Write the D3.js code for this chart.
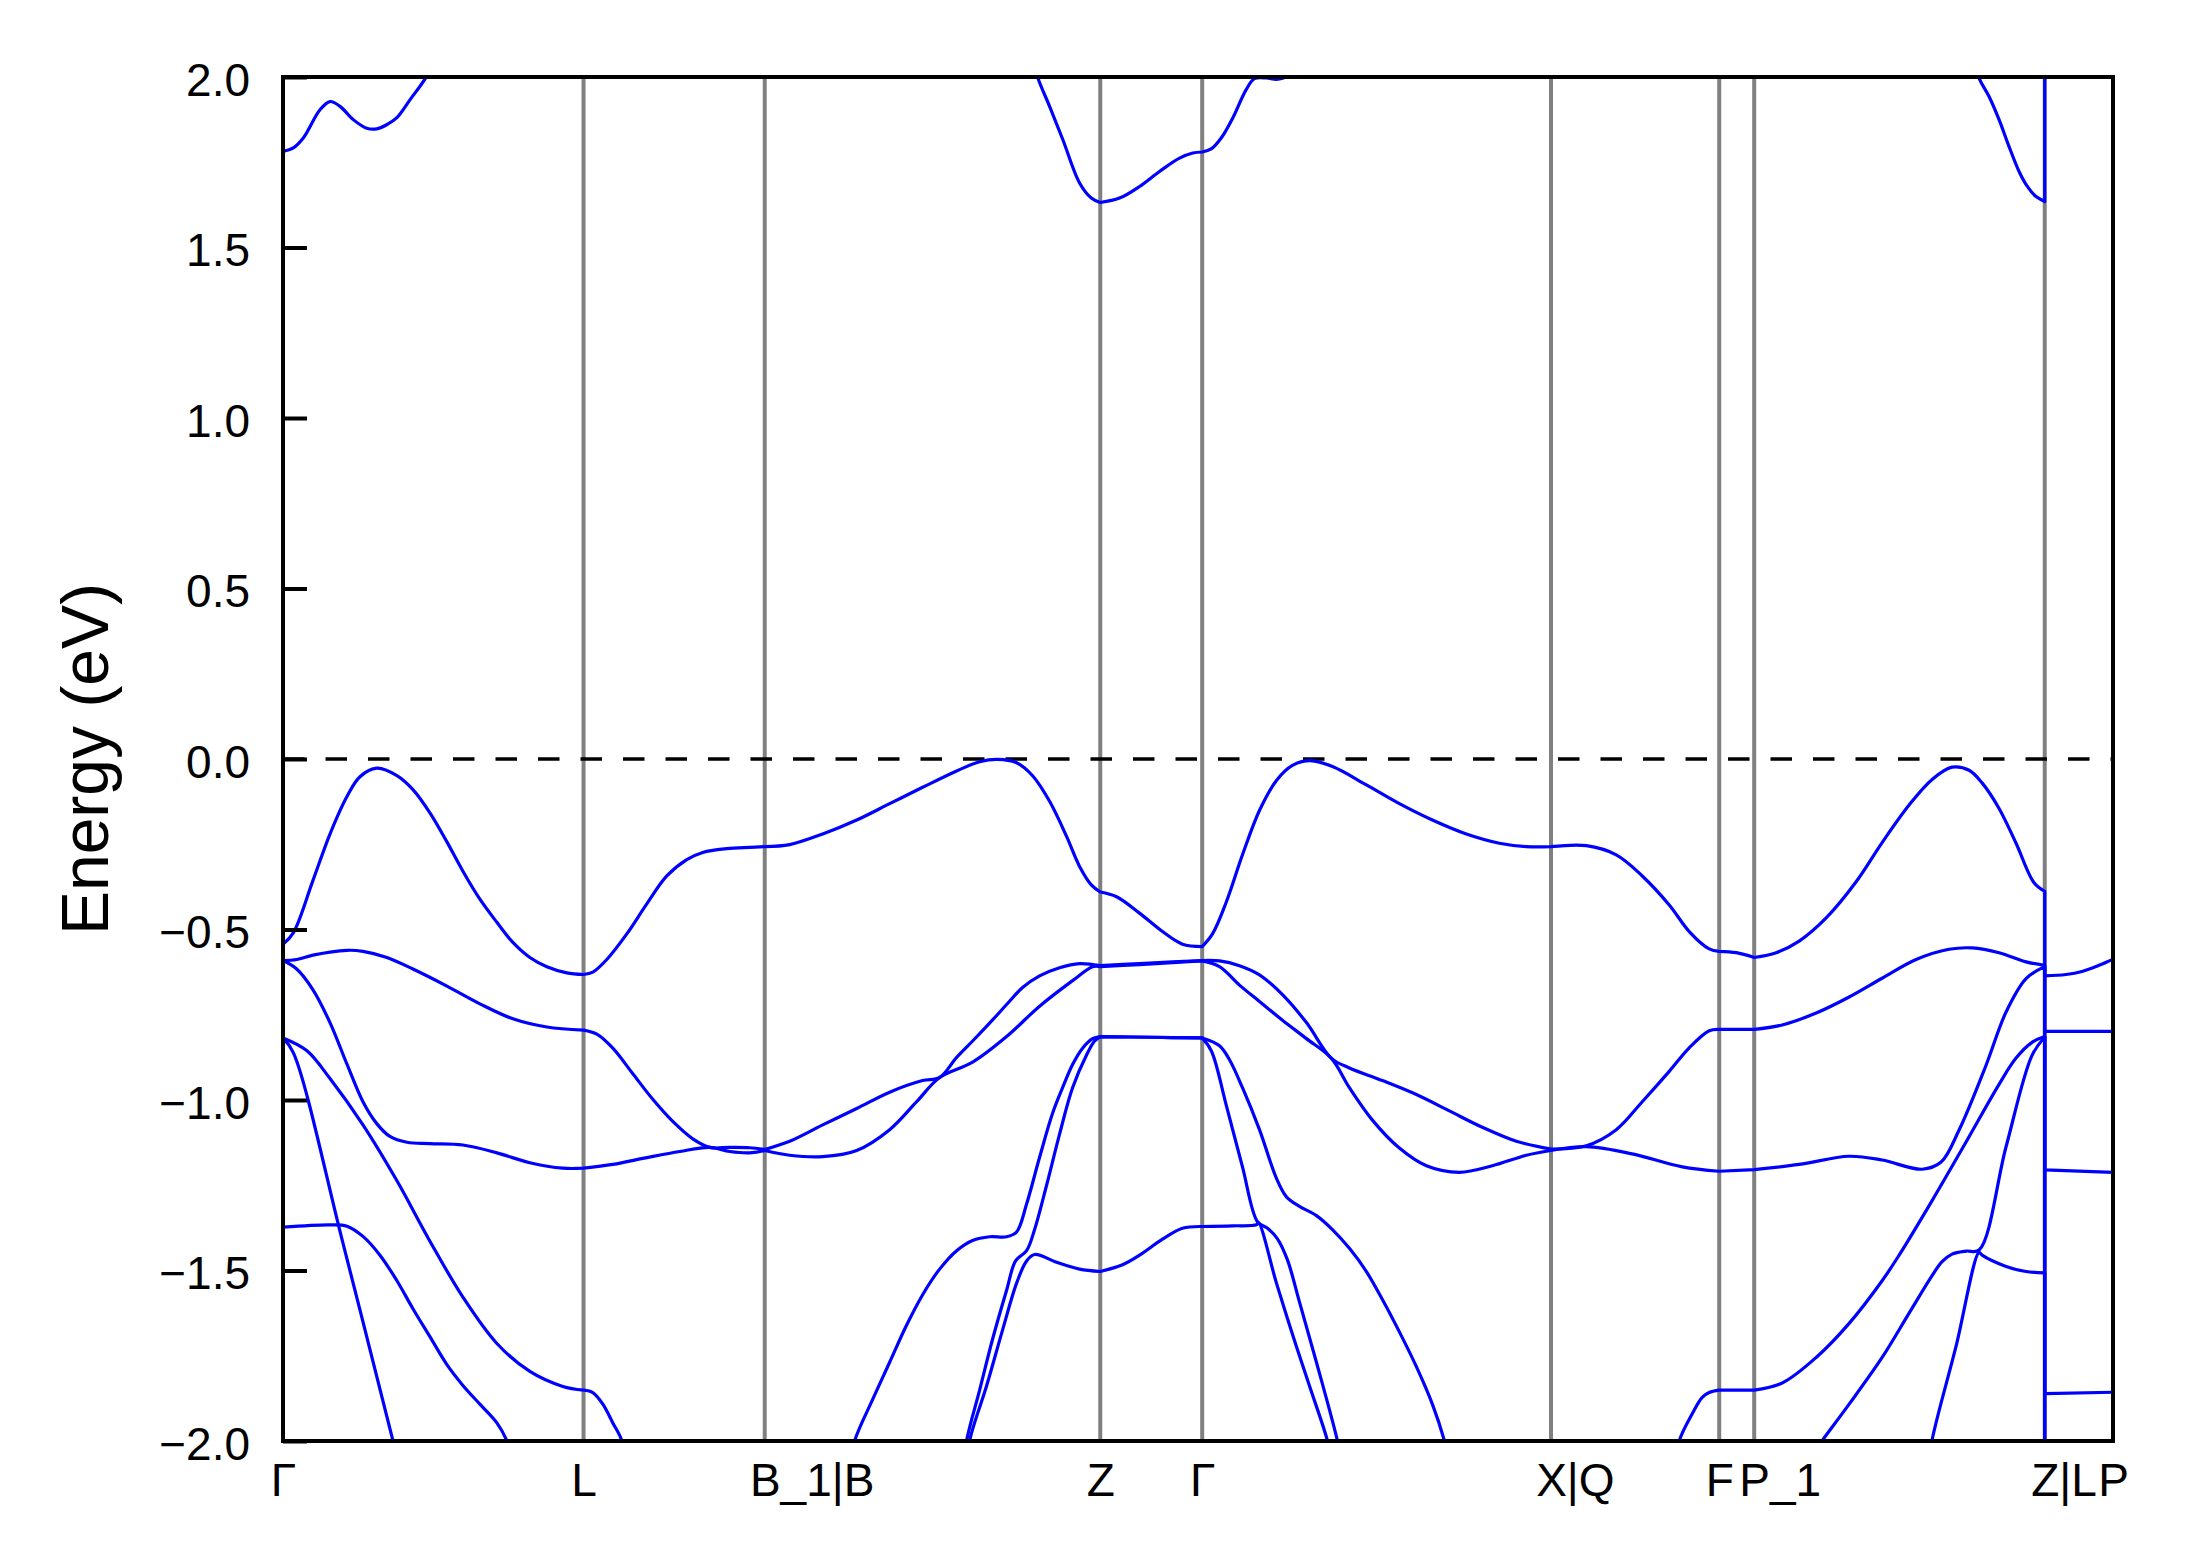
<!DOCTYPE html>
<html>
<head>
<meta charset="utf-8">
<script src="https://cdn.jsdelivr.net/npm/d3@7"></script>
<style>
  body { margin: 0; background: #fff; }
  text { font-family: "Liberation Sans", Arial, sans-serif; }
</style>
</head>
<body>
<script>
// k-path (distance along path) and labels
const kTicks = [0, 0.3007, 0.482, 0.8177, 0.9197, 1.2687, 1.437, 1.472, 1.7627, 1.831];
const kLabels = ["Γ", "L", "B_1|B", "Z", "Γ", "X|Q", "F", "P_1", "Z|L", "P"];
const energyTicks = [-2, -1.5, -1, -0.5, 0, 0.5, 1, 1.5, 2];

// conduction band pieces (only the parts that come below 2 eV)
const cbGamma = [[0, 1.782], [0.0103, 1.792], [0.0203, 1.821], [0.037, 1.904], [0.047, 1.928], [0.057, 1.914],
  [0.0703, 1.875], [0.0837, 1.85], [0.0937, 1.848], [0.1037, 1.86], [0.1137, 1.88], [0.127, 1.933],
  [0.1437, 2.002], [0.16, 2.1]];
const cbZGamma = [[0.745, 2.1], [0.7553, 1.997], [0.767, 1.914], [0.7803, 1.816], [0.797, 1.689], [0.8087, 1.645],
  [0.8177, 1.632], [0.837, 1.645], [0.857, 1.679], [0.877, 1.723], [0.897, 1.762], [0.9103, 1.777], [0.9197, 1.78],
  [0.9287, 1.789], [0.9387, 1.821], [0.9503, 1.88], [0.9637, 1.963], [0.972, 1.995], [0.984, 1.997],
  [0.994, 1.993], [1.003, 2.0], [1.015, 2.05]];
const cbZ = [[1.687, 2.1], [1.697, 1.997], [1.707, 1.943], [1.717, 1.875], [1.727, 1.796], [1.737, 1.723],
  [1.7453, 1.679], [1.7537, 1.65], [1.7627, 1.635], [1.7627, 2.1]];

// valence bands
const vb1 = [[0, -0.543], [0.0103, -0.51], [0.03, -0.356], [0.047, -0.22], [0.064, -0.11], [0.077, -0.052],
  [0.094, -0.027], [0.114, -0.049], [0.13, -0.09], [0.147, -0.158], [0.164, -0.243], [0.18, -0.329],
  [0.197, -0.411], [0.214, -0.479], [0.23, -0.538], [0.247, -0.582], [0.264, -0.609], [0.284, -0.627],
  [0.3007, -0.632], [0.31, -0.625], [0.324, -0.588], [0.344, -0.513], [0.364, -0.425], [0.384, -0.343],
  [0.404, -0.295], [0.42, -0.274], [0.444, -0.263], [0.467, -0.259], [0.482, -0.257], [0.507, -0.251],
  [0.54, -0.22], [0.574, -0.179], [0.607, -0.131], [0.64, -0.083], [0.674, -0.035], [0.697, -0.008],
  [0.715, -0.001], [0.734, -0.011], [0.75, -0.049], [0.767, -0.124], [0.784, -0.227], [0.797, -0.315],
  [0.809, -0.37], [0.8177, -0.39], [0.834, -0.404], [0.857, -0.452], [0.88, -0.506], [0.9, -0.543],
  [0.9197, -0.55], [0.93, -0.513], [0.944, -0.418], [0.96, -0.281], [0.977, -0.151], [0.994, -0.063],
  [1.01, -0.019], [1.027, -0.005], [1.05, -0.022], [1.084, -0.076], [1.117, -0.131], [1.15, -0.179],
  [1.184, -0.22], [1.217, -0.247], [1.244, -0.257], [1.2687, -0.257], [1.304, -0.254], [1.334, -0.281],
  [1.36, -0.343], [1.387, -0.428], [1.407, -0.506], [1.427, -0.557], [1.437, -0.564], [1.454, -0.568],
  [1.472, -0.582], [1.494, -0.568], [1.517, -0.534], [1.544, -0.466], [1.574, -0.36], [1.6, -0.245],
  [1.627, -0.135], [1.65, -0.06], [1.67, -0.024], [1.687, -0.033], [1.7, -0.07], [1.717, -0.145],
  [1.734, -0.247], [1.752, -0.363], [1.7627, -0.388], [1.7627, -0.636], [1.784, -0.632], [1.8, -0.623],
  [1.817, -0.605], [1.831, -0.587]];
const vb2 = [[0, -0.591], [0.0137, -0.588], [0.03, -0.575], [0.064, -0.561], [0.08, -0.564], [0.104, -0.582],
  [0.13, -0.616], [0.164, -0.666], [0.197, -0.718], [0.23, -0.762], [0.264, -0.786], [0.3007, -0.795],
  [0.314, -0.807], [0.33, -0.848], [0.35, -0.923], [0.37, -0.998], [0.39, -1.063], [0.41, -1.114],
  [0.427, -1.139], [0.447, -1.139], [0.467, -1.14], [0.482, -1.145], [0.507, -1.121], [0.54, -1.073],
  [0.574, -1.025], [0.607, -0.977], [0.64, -0.943], [0.657, -0.934], [0.674, -0.875], [0.69, -0.827],
  [0.71, -0.765], [0.724, -0.72], [0.74, -0.67], [0.757, -0.636], [0.777, -0.612], [0.797, -0.6],
  [0.8177, -0.606], [0.857, -0.6], [0.89, -0.595], [0.9197, -0.591], [0.937, -0.592], [0.957, -0.606],
  [0.977, -0.633], [1.0, -0.691], [1.024, -0.773], [1.049, -0.878], [1.067, -0.906], [1.1, -0.943],
  [1.134, -0.984], [1.167, -1.032], [1.2, -1.08], [1.234, -1.121], [1.2687, -1.144], [1.304, -1.134],
  [1.334, -1.087], [1.36, -1.005], [1.387, -0.916], [1.407, -0.847], [1.427, -0.797], [1.437, -0.793],
  [1.472, -0.793], [1.5, -0.78], [1.534, -0.745], [1.567, -0.698], [1.6, -0.643], [1.634, -0.588],
  [1.667, -0.558], [1.69, -0.554], [1.717, -0.568], [1.744, -0.595], [1.7627, -0.605], [1.7627, -0.799],
  [1.831, -0.799]];
const vb3 = [[0, -0.591], [0.0137, -0.616], [0.03, -0.677], [0.047, -0.773], [0.064, -0.895], [0.08, -1.005],
  [0.094, -1.07], [0.107, -1.107], [0.124, -1.124], [0.147, -1.128], [0.18, -1.132], [0.214, -1.155],
  [0.247, -1.184], [0.28, -1.2], [0.3007, -1.2], [0.33, -1.189], [0.364, -1.169], [0.397, -1.151],
  [0.427, -1.139], [0.447, -1.151], [0.467, -1.155], [0.482, -1.148], [0.507, -1.162], [0.54, -1.166],
  [0.574, -1.148], [0.607, -1.087], [0.634, -1.005], [0.657, -0.934], [0.69, -0.889], [0.724, -0.814],
  [0.757, -0.725], [0.79, -0.65], [0.81, -0.609], [0.8177, -0.609], [0.857, -0.603], [0.89, -0.597],
  [0.9197, -0.592], [0.937, -0.609], [0.957, -0.663], [0.977, -0.711], [1.0, -0.766], [1.024, -0.82],
  [1.049, -0.878], [1.067, -0.964], [1.09, -1.059], [1.117, -1.141], [1.144, -1.193], [1.177, -1.212],
  [1.21, -1.193], [1.244, -1.162], [1.2687, -1.148], [1.304, -1.137], [1.35, -1.158], [1.4, -1.196],
  [1.437, -1.209], [1.472, -1.204], [1.517, -1.189], [1.567, -1.165], [1.6, -1.176], [1.64, -1.203],
  [1.659, -1.182], [1.677, -1.088], [1.704, -0.898], [1.724, -0.742], [1.744, -0.644], [1.7627, -0.609],
  [1.7627, -1.205], [1.831, -1.212]];

// lower bands around the first Gamma
const vbGammaL = [[0, -0.818], [0.0237, -0.855], [0.047, -0.937], [0.08, -1.073], [0.114, -1.237],
  [0.147, -1.414], [0.18, -1.578], [0.214, -1.714], [0.247, -1.796], [0.28, -1.84], [0.3007, -1.851],
  [0.31, -1.858], [0.32, -1.892], [0.33, -1.947], [0.339, -1.999], [0.345, -2.1]];
const vbGammaSteep = [[0, -0.818], [0.0103, -0.861], [0.06, -1.42], [0.11, -1.999], [0.116, -2.07]];
const vbGammaFlat = [[0, -1.373], [0.047, -1.366], [0.064, -1.37], [0.08, -1.4], [0.097, -1.455],
  [0.114, -1.53], [0.13, -1.612], [0.147, -1.694], [0.164, -1.776], [0.18, -1.837], [0.197, -1.892],
  [0.214, -1.947], [0.224, -1.999], [0.23, -2.05]];

// lower bands around Z - Gamma
const vbZUpper = [[0.565, -2.1], [0.572, -1.999], [0.59, -1.878], [0.607, -1.769], [0.624, -1.66],
  [0.64, -1.571], [0.657, -1.496], [0.674, -1.442], [0.69, -1.412], [0.707, -1.401], [0.724, -1.401],
  [0.734, -1.387], [0.744, -1.305], [0.757, -1.168], [0.77, -1.039], [0.78, -0.964], [0.79, -0.896],
  [0.8, -0.848], [0.81, -0.82], [0.8177, -0.814], [0.869, -0.816], [0.9197, -0.818], [0.937, -0.841],
  [0.947, -0.882], [0.96, -0.964], [0.977, -1.087], [0.994, -1.23], [1.004, -1.284], [1.017, -1.312],
  [1.034, -1.339], [1.05, -1.38], [1.067, -1.435], [1.084, -1.503], [1.1, -1.585], [1.117, -1.68],
  [1.134, -1.782], [1.15, -1.892], [1.162, -1.999], [1.17, -2.1]];
const vbZMiddle = [[0.68, -2.1], [0.684, -1.999], [0.697, -1.851], [0.71, -1.701], [0.724, -1.558],
  [0.733, -1.472], [0.744, -1.442], [0.752, -1.38], [0.764, -1.25], [0.777, -1.1], [0.79, -0.964],
  [0.804, -0.868], [0.812, -0.827], [0.8177, -0.814], [0.869, -0.816], [0.9197, -0.818], [0.929, -0.857],
  [0.944, -1.018], [0.96, -1.196], [0.975, -1.357], [0.985, -1.376], [0.995, -1.407], [1.005, -1.469],
  [1.017, -1.592], [1.034, -1.769], [1.055, -1.999], [1.062, -2.1]];
const vbZLower = [[0.683, -2.1], [0.687, -1.999], [0.704, -1.838], [0.72, -1.674], [0.734, -1.537],
  [0.744, -1.472], [0.752, -1.453], [0.774, -1.476], [0.797, -1.496], [0.8177, -1.503], [0.84, -1.483],
  [0.857, -1.455], [0.88, -1.408], [0.9, -1.376], [0.9197, -1.371], [0.95, -1.369], [0.974, -1.366],
  [0.976, -1.36], [0.994, -1.537], [1.01, -1.687], [1.027, -1.838], [1.045, -1.999], [1.05, -2.07]];

// lower bands on the F - P_1 - Z|L side
const vb4Right = [[1.39, -2.1], [1.397, -1.999], [1.41, -1.92], [1.42, -1.872], [1.427, -1.858],
  [1.437, -1.851], [1.472, -1.851], [1.5, -1.83], [1.534, -1.755], [1.567, -1.655], [1.6, -1.53],
  [1.617, -1.455], [1.65, -1.295], [1.684, -1.123], [1.717, -0.954], [1.734, -0.877], [1.75, -0.831],
  [1.7627, -0.814], [1.7627, -1.861], [1.831, -1.857]];
const vb5Right = [[1.53, -2.04], [1.54, -1.999], [1.567, -1.892], [1.6, -1.755], [1.627, -1.625],
  [1.65, -1.515], [1.66, -1.474], [1.67, -1.452], [1.684, -1.443], [1.697, -1.44], [1.724, -1.137],
  [1.75, -0.869], [1.7627, -0.816], [1.7627, -2.2]];
const vb6Right = [[1.645, -2.1], [1.65, -1.997], [1.674, -1.722], [1.697, -1.447], [1.7, -1.455],
  [1.724, -1.488], [1.744, -1.503], [1.7627, -1.507], [1.7627, -2.2]];

const bands = [cbGamma, cbZGamma, cbZ, vb1, vb2, vb3, vbGammaL, vbGammaSteep, vbGammaFlat,
  vbZUpper, vbZMiddle, vbZLower, vb4Right, vb5Right, vb6Right];

const width = 2189, height = 1567;
const plot = {left: 283, right: 2113, top: 77, bottom: 1441};

const x = d3.scaleLinear().domain([0, 1.831]).range([plot.left, plot.right]);
const y = d3.scaleLinear().domain([-2, 2]).range([plot.bottom, plot.top]);

const svg = d3.select("body").append("svg")
  .attr("width", width)
  .attr("height", height);

svg.append("rect").attr("width", width).attr("height", height).attr("fill", "#fff");

svg.append("defs").append("clipPath").attr("id", "plot-clip")
  .append("rect")
  .attr("x", plot.left).attr("y", plot.top)
  .attr("width", plot.right - plot.left).attr("height", plot.bottom - plot.top);

// high-symmetry lines
svg.append("g").selectAll("line")
  .data(kTicks.slice(1, -1))
  .enter().append("line")
  .attr("x1", d => x(d)).attr("x2", d => x(d))
  .attr("y1", plot.top).attr("y2", plot.bottom)
  .attr("stroke", "#808080")
  .attr("stroke-width", 4);

// Fermi level
svg.append("line")
  .attr("x1", plot.left).attr("x2", plot.right)
  .attr("y1", y(0)).attr("y2", y(0))
  .attr("stroke", "#000")
  .attr("stroke-width", 3.5)
  .attr("stroke-dasharray", "21.5,21");

// bands: smooth within each branch, keep kinks at the k-points and jumps at Z|L
const line = d3.line().x(d => x(d[0])).y(d => y(d[1])).curve(d3.curveCatmullRom.alpha(0.5));
const isTick = k => kTicks.some(t => Math.abs(t - k) < 1e-6);

function bandPath(pts) {
  const runs = [];
  let run = [pts[0]];
  for (let i = 1; i < pts.length; i++) {
    const p = pts[i], prev = pts[i - 1];
    if (p[0] === prev[0]) {
      runs.push(run);
      run = [p];
      continue;
    }
    run.push(p);
    if (isTick(p[0]) && i < pts.length - 1 && pts[i + 1][0] !== p[0]) {
      runs.push(run);
      run = [p];
    }
  }
  runs.push(run);
  return runs.map((r, j) => {
    const d = line(r);
    return j ? "L" + d.slice(1) : d;
  }).join("");
}

svg.append("g")
  .attr("clip-path", "url(#plot-clip)")
  .selectAll("path")
  .data(bands)
  .enter().append("path")
  .attr("d", bandPath)
  .attr("fill", "none")
  .attr("stroke", "#0000ff")
  .attr("stroke-width", 3.2)
  .attr("stroke-linejoin", "round");

// y axis
const yAxis = d3.axisLeft(y)
  .tickValues(energyTicks)
  .tickFormat(d3.format(".1f"))
  .tickSize(-24)
  .tickPadding(33);

const gy = svg.append("g")
  .attr("transform", "translate(" + plot.left + ",0)")
  .call(yAxis);
gy.select(".domain").remove();
gy.selectAll(".tick line").attr("stroke", "#000").attr("stroke-width", 4);
gy.selectAll(".tick text")
  .attr("fill", "#000")
  .attr("font-size", 46)
  .attr("dy", "0.4em")
  .style("font-family", "'Liberation Sans', Arial, sans-serif");

// x axis labels: first character sits on the k-point line
const xAxis = d3.axisBottom(x)
  .tickValues(kTicks)
  .tickFormat((d, i) => kLabels[i])
  .tickSize(0)
  .tickPadding(0);

const gx = svg.append("g")
  .attr("transform", "translate(0," + plot.bottom + ")")
  .call(xAxis);
gx.select(".domain").remove();
gx.selectAll(".tick text")
  .attr("fill", "#000")
  .attr("font-size", 46)
  .attr("y", 55)
  .attr("dy", 0)
  .style("font-family", "'Liberation Sans', Arial, sans-serif")
  .each(function (d, i) {
    const probe = svg.append("text")
      .attr("font-size", 46)
      .style("font-family", "'Liberation Sans', Arial, sans-serif")
      .text(kLabels[i].charAt(0));
    const w = probe.node().getComputedTextLength();
    probe.remove();
    d3.select(this).attr("text-anchor", "start").attr("x", -w / 2);
  });

// frame
svg.append("rect")
  .attr("x", plot.left).attr("y", plot.top)
  .attr("width", plot.right - plot.left).attr("height", plot.bottom - plot.top)
  .attr("fill", "none")
  .attr("stroke", "#000")
  .attr("stroke-width", 4);

svg.append("text")
  .attr("transform", "translate(108," + ((plot.top + plot.bottom) / 2) + ") rotate(-90)")
  .attr("text-anchor", "middle")
  .attr("font-size", 66)
  .attr("fill", "#000")
  .text("Energy (eV)");
</script>
</body>
</html>
